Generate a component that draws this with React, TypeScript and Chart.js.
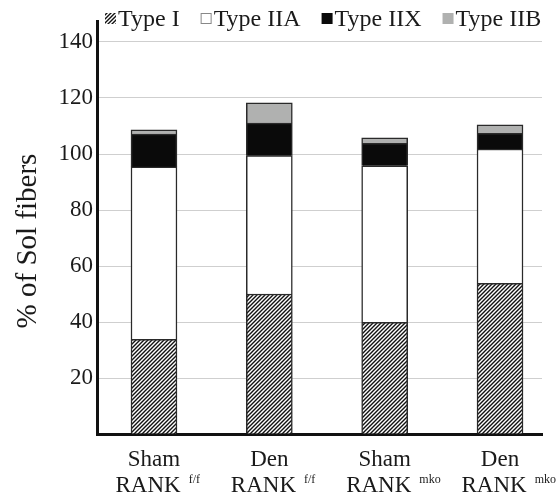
import React, { useEffect, useRef } from 'react';
import { Chart, registerables } from 'chart.js';

Chart.register(...registerables);

// ---- data ----
const groupNames = ['Sham', 'Den', 'Sham', 'Den'];
const genotypes = ['f/f', 'f/f', 'mko', 'mko'];
const seriesNames = ['Type I', 'Type IIA', 'Type IIX', 'Type IIB'];
const typeI = [33.8, 50, 39.9, 53.8];
const typeIIA = [61.6, 49.4, 55.9, 48];
const typeIIX = [11.7, 11.6, 8, 5.6];
const typeIIB = [1.5, 7.3, 2, 3];
const yMin = 0;
const yMax = 147.5;
const yStep = 20;
const yTitle = '% of Sol fibers';

const FONT = '"Liberation Serif", "Times New Roman", serif';

function makeHatch(): CanvasPattern | string {
  const c = document.createElement('canvas');
  c.width = 4;
  c.height = 4;
  const g = c.getContext('2d');
  if (!g) return '#777';
  g.fillStyle = '#ffffff';
  g.fillRect(0, 0, 4, 4);
  g.strokeStyle = '#111111';
  g.lineWidth = 1.4;
  g.beginPath();
  g.moveTo(-1, 5);
  g.lineTo(5, -1);
  g.moveTo(-3, 3);
  g.lineTo(3, -3);
  g.moveTo(1, 7);
  g.lineTo(7, 1);
  g.stroke();
  const p = g.createPattern(c, 'repeat');
  return p || '#777';
}

export default function App() {
  const ref = useRef<HTMLCanvasElement | null>(null);

  useEffect(() => {
    const canvas = ref.current;
    if (!canvas) return;
    const hatch = makeHatch();
    const fills: any[] = [hatch, '#ffffff', '#0a0a0a', '#b0b1b0'];
    const seriesValues = [typeI, typeIIA, typeIIX, typeIIB];

    const datasets = seriesNames.map((name, s) => ({
      label: name,
      data: seriesValues[s].map((v, i) => ({ x: i, y: v })),
      backgroundColor: fills[s],
      borderColor: '#2a2a2a',
      borderWidth: 1.5,
      borderSkipped: 'start' as const,
      barThickness: 46,
    }));

    const overlay = {
      id: 'overlay',
      afterDraw(chart: any) {
        const ctx: CanvasRenderingContext2D = chart.ctx;
        const xs = chart.scales.x;
        ctx.save();
        ctx.fillStyle = '#1a1a1a';

        // x category labels
        groupNames.forEach((g, i) => {
          const cx = xs.getPixelForValue(i);
          ctx.font = `23px ${FONT}`;
          ctx.textAlign = 'center';
          ctx.textBaseline = 'alphabetic';
          ctx.fillText(g, cx, 466);
          ctx.textAlign = 'left';
          const left = cx - 38.5;
          ctx.fillText('RANK', left, 492);
          const w = ctx.measureText('RANK').width;
          ctx.font = `12px ${FONT}`;
          ctx.fillText(genotypes[i], left + w + 8, 483);
        });

        // y title
        ctx.save();
        ctx.translate(36, 241);
        ctx.rotate(-Math.PI / 2);
        ctx.font = `29px ${FONT}`;
        ctx.textAlign = 'center';
        ctx.textBaseline = 'alphabetic';
        ctx.fillText(yTitle, 0, 0);
        ctx.restore();

        // legend
        let lx = 105;
        const boxTop = 13;
        const box = 11;
        ctx.font = `24px ${FONT}`;
        ctx.textAlign = 'left';
        ctx.textBaseline = 'alphabetic';
        chart.data.datasets.forEach((ds: any, s: number) => {
          ctx.fillStyle = ds.backgroundColor;
          ctx.fillRect(lx, boxTop, box, box);
          if (s === 1) {
            ctx.strokeStyle = '#888';
            ctx.lineWidth = 1;
            ctx.strokeRect(lx + 0.5, boxTop + 0.5, box - 1, box - 1);
          }
          lx += box + 2;
          ctx.fillStyle = '#1a1a1a';
          ctx.fillText(ds.label, lx, 26);
          lx += ctx.measureText(ds.label).width + 21;
        });
        ctx.restore();
      },
    };

    const chart = new Chart(canvas, {
      type: 'bar',
      data: { datasets } as any,
      options: {
        animation: false,
        responsive: false,
        maintainAspectRatio: false,
        layout: { padding: { top: 21, right: 18, left: 0, bottom: 0 } },
        plugins: { legend: { display: false }, tooltip: { enabled: false } },
        scales: {
          x: {
            type: 'linear',
            stacked: true,
            offset: false,
            min: -0.494,
            max: 3.364,
            grid: { display: false, offset: false },
            border: { display: true, color: '#111', width: 3 },
            ticks: { display: false },
            afterFit: (s: any) => {
              s.height = 68;
            },
          },
          y: {
            stacked: true,
            min: yMin,
            max: yMax,
            ticks: {
              stepSize: yStep,
              includeBounds: false,
              callback: (v: any) => (v === 0 ? '' : String(v)),
              font: { family: FONT, size: 23 },
              color: '#1a1a1a',
              padding: 4,
            },
            grid: { color: '#cfcfcf', lineWidth: 1, drawTicks: false },
            border: { display: true, color: '#111', width: 3 },
            afterFit: (s: any) => {
              s.width = 97;
            },
          },
        },
      } as any,
      plugins: [overlay],
    });

    return () => chart.destroy();
  }, []);

  return (
    <div style={{ position: 'fixed', left: 0, top: 0, width: 560, height: 502, background: '#fff' }}>
      <canvas ref={ref} width={560} height={502} style={{ display: 'block' }} />
    </div>
  );
}
